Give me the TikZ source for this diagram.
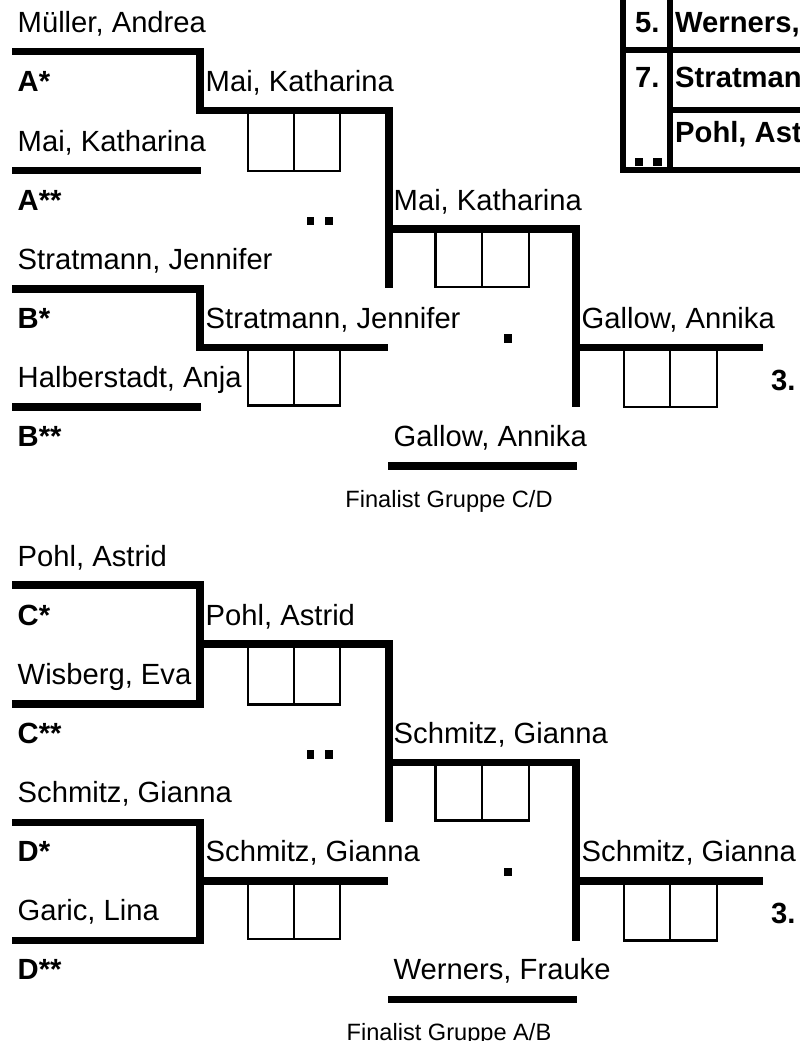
\documentclass[tikz,border=0pt]{standalone}
\usepackage{fontspec}
\setmainfont{Liberation Sans}
\begin{document}
\begin{tikzpicture}[x=1pt,y=-1pt,
  heavy/.style={line width=7.5pt},
  boxline/.style={line width=2.7pt},
  tabline/.style={line width=6pt},
  lbl/.style={anchor=base west, inner sep=0pt, font=\fontsize{29.2}{34}\selectfont},
  seedlbl/.style={anchor=base west, inner sep=0pt, font=\fontsize{29.2}{34}\selectfont\bfseries},
  notelbl/.style={anchor=base, inner sep=0pt, font=\fontsize{23.6}{28}\selectfont}]
\useasboundingbox (0,0) rectangle (800,1041);
\clip (0,0) rectangle (800,1041);

% ---------- top-right table ----------
\draw[tabline] (623,-10) -- (623,170) -- (800,170);
\draw[tabline] (670,-10) -- (670,170);
\draw[tabline] (620,50) -- (800,50);
\draw[tabline] (670,110) -- (800,110);
\node[seedlbl] (t5) at (635,33) {5.};
\node[seedlbl] (t5n) at (675,33) {Werners, Frauke};
\node[seedlbl] (t7) at (635,88) {7.};
\node[seedlbl] (t7n) at (675,88) {Stratmann, Jennifer};
\node[seedlbl] (t8n) at (675,142) {Pohl, Astrid};
\fill (635,158.3) rectangle (643.3,166);
\fill (653.3,158.3) rectangle (661.7,166);

% ---------- upper bracket (groups A/B) ----------
\draw[heavy] (12,51.7) -- (200,51.7) -- (200,110.5) -- (389,110.5) -- (389,288);
\draw[heavy] (12,170.5) -- (201,170.5);
\draw[heavy] (389,229) -- (576,229) -- (576,407);
\draw[heavy] (12,289) -- (200,289) -- (200,347.5) -- (388,347.5);
\draw[heavy] (12,407) -- (201,407);
\draw[heavy] (576,347.5) -- (763,347.5);
\draw[heavy] (388,466) -- (577,466);

\draw[boxline] (248,113) rectangle (340,171) (294,113) -- (294,171);
\draw[boxline] (435.5,231) rectangle (529,287) (482,231) -- (482,287);
\draw[boxline] (248,350) rectangle (340,405.5) (294,350) -- (294,405.5);
\draw[boxline] (624,350) rectangle (717,407) (670,350) -- (670,407);

\fill (306.7,216.7) rectangle (314.3,225);
\fill (324.5,216.7) rectangle (332.5,225);
\fill (504.3,334) rectangle (511.7,342.5);

\node[lbl] (a1) at (17.5,33) {Müller, Andrea};
\node[seedlbl] (a1s) at (17.5,92) {A*};
\node[lbl] (a2) at (17.5,151) {Mai, Katharina};
\node[seedlbl] (a2s) at (17.5,210) {A**};
\node[lbl] (b1) at (17.5,269) {Stratmann, Jennifer};
\node[seedlbl] (b1s) at (17.5,328) {B*};
\node[lbl] (b2) at (17.5,387) {Halberstadt, Anja};
\node[seedlbl] (b2s) at (17.5,446) {B**};
\node[lbl] (wa) at (205.5,92) {Mai, Katharina};
\node[lbl] (wb) at (205.5,328) {Stratmann, Jennifer};
\node[lbl] (wab) at (393.5,210) {Mai, Katharina};
\node[lbl] (third1) at (581.5,328) {Gallow, Annika};
\node[seedlbl] (p3a) at (771,390) {3.};
\node[lbl] (fin1) at (393.5,446) {Gallow, Annika};
\node[notelbl] (fin1t) at (449,507) {Finalist Gruppe C/D};

% ---------- lower bracket (groups C/D) ----------
\begin{scope}[yshift=-533.5pt]
\draw[heavy] (12,51.7) -- (200,51.7) -- (200,170.5) -- (12,170.5);
\draw[heavy] (200,110.5) -- (389,110.5) -- (389,288);
\draw[heavy] (389,229) -- (576,229) -- (576,407);
\draw[heavy] (12,289) -- (200,289) -- (200,407) -- (12,407);
\draw[heavy] (200,347.5) -- (388,347.5);
\draw[heavy] (576,347.5) -- (763,347.5);
\draw[heavy] (388,466) -- (577,466);

\draw[boxline] (248,113) rectangle (340,171) (294,113) -- (294,171);
\draw[boxline] (435.5,231) rectangle (529,287) (482,231) -- (482,287);
\draw[boxline] (248,350) rectangle (340,405.5) (294,350) -- (294,405.5);
\draw[boxline] (624,350) rectangle (717,407) (670,350) -- (670,407);

\fill (306.7,216.7) rectangle (314.3,225);
\fill (324.5,216.7) rectangle (332.5,225);
\fill (504.3,334) rectangle (511.7,342.5);

\node[lbl] (c1) at (17.5,33) {Pohl, Astrid};
\node[seedlbl] (c1s) at (17.5,92) {C*};
\node[lbl] (c2) at (17.5,151) {Wisberg, Eva};
\node[seedlbl] (c2s) at (17.5,210) {C**};
\node[lbl] (d1) at (17.5,269) {Schmitz, Gianna};
\node[seedlbl] (d1s) at (17.5,328) {D*};
\node[lbl] (d2) at (17.5,387) {Garic, Lina};
\node[seedlbl] (d2s) at (17.5,446) {D**};
\node[lbl] (wc) at (205.5,92) {Pohl, Astrid};
\node[lbl] (wd) at (205.5,328) {Schmitz, Gianna};
\node[lbl] (wcd) at (393.5,210) {Schmitz, Gianna};
\node[lbl] (third2) at (581.5,328) {Schmitz, Gianna};
\node[seedlbl] (p3b) at (771,390) {3.};
\node[lbl] (fin2) at (393.5,446) {Werners, Frauke};
\node[notelbl] (fin2t) at (449,507) {Finalist Gruppe A/B};
\end{scope}
\end{tikzpicture}
\end{document}
